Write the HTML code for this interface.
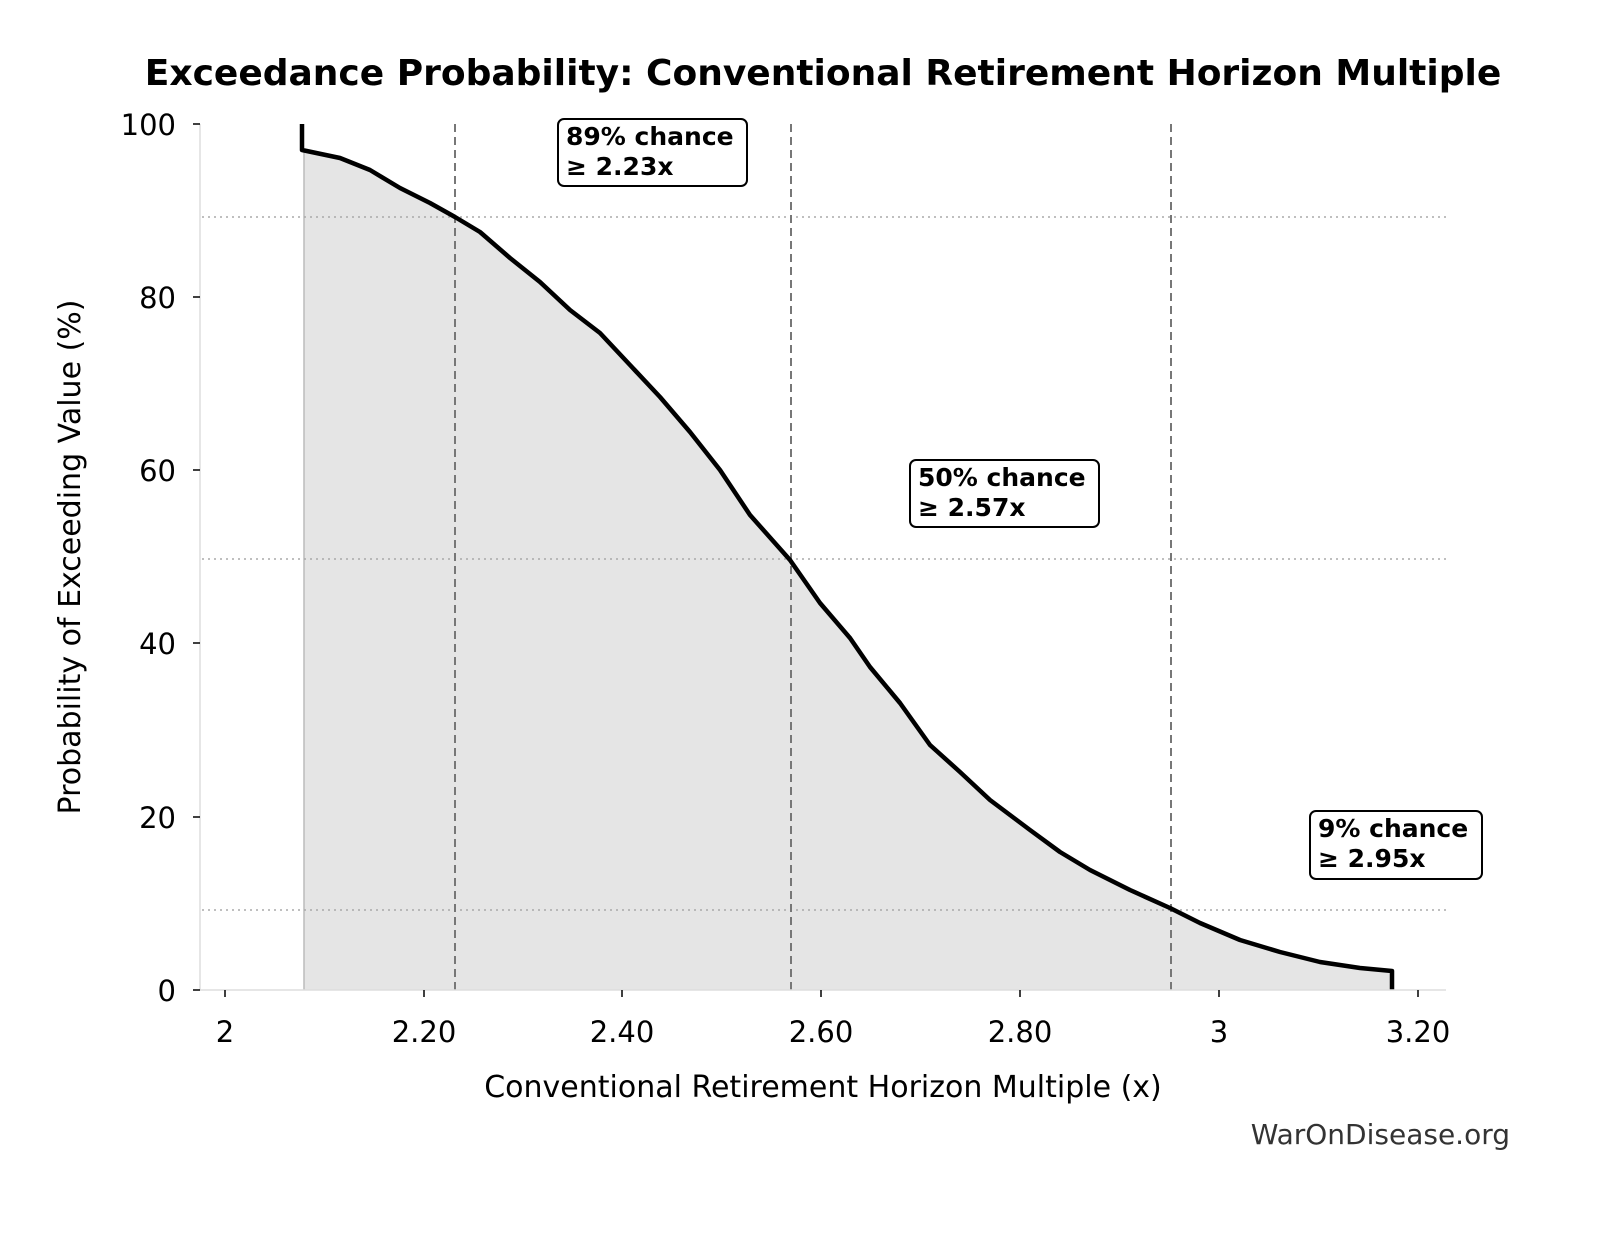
<!DOCTYPE html>
<html><head><style>
html,body{margin:0;padding:0;background:#fff;overflow:hidden;width:1604px;height:1234px;}
svg{display:block;}
text{font-family:"DejaVu Sans","Liberation Sans",sans-serif;}
</style></head><body>
<svg width="1604" height="1234" xmlns="http://www.w3.org/2000/svg">
<rect width="1604" height="1234" fill="#fff"/>
<text x="823" y="85" font-size="36" font-weight="bold" text-anchor="middle">Exceedance Probability: Conventional Retirement Horizon Multiple</text>
<polygon fill="#e5e5e5" points="304,990 304,150 340,158 370,170 400,188 430,203 455,217 480,232 510,258 540,282 570,310 600,333 630,365 660,397 690,432 720,470 750,515 790,560 820,603 850,638 870,667 900,703 930,745 960,772 990,800 1030,830 1060,852 1090,870 1130,890 1170,908 1200,923 1240,940 1280,952 1320,962 1360,968 1392,971 1392,990"/>
<line x1="304" y1="150" x2="304" y2="990" stroke="#bbb" stroke-width="1.5"/>
<g stroke="#aaa" stroke-width="1.5" stroke-dasharray="2,4">
<line x1="202" y1="217" x2="1446" y2="217"/>
<line x1="202" y1="559" x2="1446" y2="559"/>
<line x1="202" y1="910" x2="1446" y2="910"/>
</g>
<g stroke="#777" stroke-width="2" stroke-dasharray="8,5">
<line x1="455" y1="124" x2="455" y2="990"/>
<line x1="791" y1="124" x2="791" y2="990"/>
<line x1="1171" y1="124" x2="1171" y2="990"/>
</g>
<polyline fill="none" stroke="#000" stroke-width="4.5" stroke-linejoin="round" points="302,124 302,150 340,158 370,170 400,188 430,203 455,217 480,232 510,258 540,282 570,310 600,333 630,365 660,397 690,432 720,470 750,515 790,560 820,603 850,638 870,667 900,703 930,745 960,772 990,800 1030,830 1060,852 1090,870 1130,890 1170,908 1200,923 1240,940 1280,952 1320,962 1360,968 1392,971 1392,990"/>
<line x1="200" y1="124" x2="200" y2="990" stroke="#ddd" stroke-width="1.5"/>
<line x1="200" y1="990" x2="1446" y2="990" stroke="#ddd" stroke-width="1.5"/>
<g stroke="#000" stroke-width="1.5">
<line x1="193" y1="124" x2="200" y2="124"/><line x1="193" y1="297" x2="200" y2="297"/><line x1="193" y1="470" x2="200" y2="470"/><line x1="193" y1="643" x2="200" y2="643"/><line x1="193" y1="817" x2="200" y2="817"/><line x1="193" y1="990" x2="200" y2="990"/>
<line x1="225" y1="990" x2="225" y2="997"/><line x1="424" y1="990" x2="424" y2="997"/><line x1="622" y1="990" x2="622" y2="997"/><line x1="821" y1="990" x2="821" y2="997"/><line x1="1020" y1="990" x2="1020" y2="997"/><line x1="1219" y1="990" x2="1219" y2="997"/><line x1="1418" y1="990" x2="1418" y2="997"/>
</g>
<g font-size="29" text-anchor="end">
<text x="176" y="135">100</text><text x="176" y="308">80</text><text x="176" y="481">60</text><text x="176" y="654">40</text><text x="176" y="828">20</text><text x="176" y="1001">0</text>
</g>
<g font-size="29" text-anchor="middle">
<text x="225" y="1042">2</text><text x="424" y="1042">2.20</text><text x="622" y="1042">2.40</text><text x="821" y="1042">2.60</text><text x="1020" y="1042">2.80</text><text x="1219" y="1042">3</text><text x="1418" y="1042">3.20</text>
</g>
<text x="823" y="1097" font-size="30" text-anchor="middle">Conventional Retirement Horizon Multiple (x)</text>
<text transform="translate(80,557) rotate(-90)" font-size="30" text-anchor="middle">Probability of Exceeding Value (%)</text>
<text x="1510" y="1144" font-size="28" fill="#333" text-anchor="end">WarOnDisease.org</text>
<g font-size="25" font-weight="bold">
<rect x="558" y="119" width="189" height="67" rx="6" fill="#fff" stroke="#000" stroke-width="2"/>
<text x="566" y="145">89% chance</text><text x="566" y="175">≥ 2.23x</text>
<rect x="910" y="460" width="189" height="67" rx="6" fill="#fff" stroke="#000" stroke-width="2"/>
<text x="918" y="486">50% chance</text><text x="918" y="516">≥ 2.57x</text>
<rect x="1310" y="811" width="172" height="68" rx="6" fill="#fff" stroke="#000" stroke-width="2"/>
<text x="1318" y="837">9% chance</text><text x="1318" y="867">≥ 2.95x</text>
</g>
</svg>
</body></html>
